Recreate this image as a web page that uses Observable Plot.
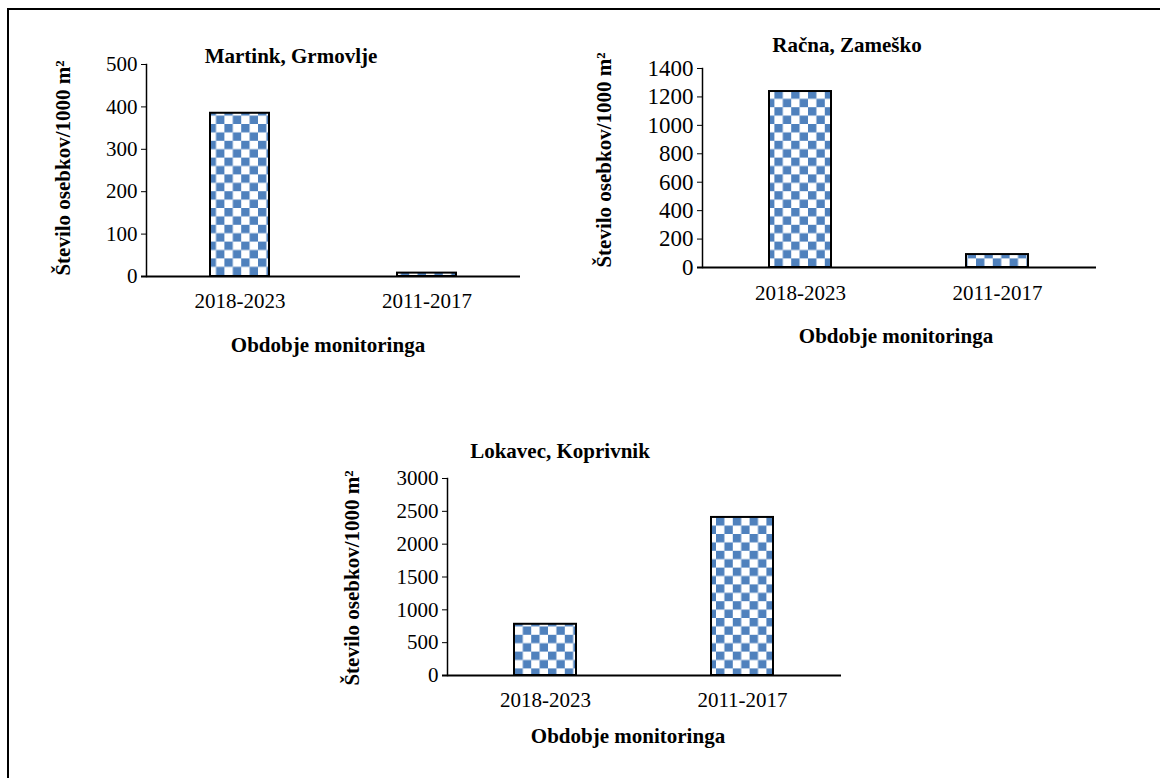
<!DOCTYPE html>
<html><head><meta charset="utf-8">
<script src="https://cdn.jsdelivr.net/npm/d3@7"></script>
<script src="https://cdn.jsdelivr.net/npm/@observablehq/plot@0.6"></script>
<style>
body{margin:0;background:#fff;overflow:hidden;}
#page{position:relative;width:1160px;height:778px;overflow:hidden;background:#fff;font-family:"Liberation Serif","Times New Roman",serif;}
#border{position:absolute;left:7px;top:8px;width:1300px;height:900px;border-left:2px solid #000;border-top:2px solid #000;}
.panel{position:absolute;}
</style></head><body>
<div id="page"><div id="border"></div></div>
<script>
// ---- data ----
const periods = ["2018-2023", "2011-2017"];
const martinkValues = [385, 8];
const racnaValues = [1238, 91];
const lokavecValues = [780, 2407];
const martinkTicks = [0, 100, 200, 300, 400, 500];
const racnaTicks = [0, 200, 400, 600, 800, 1000, 1200, 1400];
const lokavecTicks = [0, 500, 1000, 1500, 2000, 2500, 3000];
const titles = ["Martink, Grmovlje", "Račna, Zameško", "Lokavec, Koprivnik"];
const yLabel = "Število osebkov/1000 m²";
const xLabel = "Obdobje monitoringa";

// ---- layout ----
const layouts = [
  {left: 90, top: 40, w: 440, h: 280, ml: 56, mr: 10, mt: 24, mb: 44, tp: 17, yfs: 21,
   title: [291, 63], ylab: [70, 168], xlab: [328, 352]},
  {left: 640, top: 40, w: 470, h: 270, ml: 62, mr: 14, mt: 28, mb: 43, tp: 18, yfs: 23,
   title: [847, 52], ylab: [611, 160], xlab: [896, 343]},
  {left: 380, top: 450, w: 480, h: 275, ml: 67, mr: 19, mt: 28, mb: 50, tp: 17, yfs: 21,
   title: [560, 458], ylab: [359, 578], xlab: [628, 743]}
];
const series = [martinkValues, racnaValues, lokavecValues];
const tickSets = [martinkTicks, racnaTicks, lokavecTicks];

const page = d3.select("#page");
const FONT = '"Liberation Serif","Times New Roman",serif';

// checker pattern
const cell = 8.4;
const defsSvg = page.append("svg").attr("width", 1).attr("height", 1).style("position", "absolute").style("left", 0).style("top", 0);
const pat = defsSvg.append("defs").append("pattern").attr("id", "checker")
  .attr("patternUnits", "userSpaceOnUse").attr("width", 2 * cell).attr("height", 2 * cell);
pat.append("rect").attr("width", 2 * cell).attr("height", 2 * cell).attr("fill", "#fff");
pat.append("rect").attr("width", cell).attr("height", cell).attr("fill", "#4f81bd");
pat.append("rect").attr("x", cell).attr("y", cell).attr("width", cell).attr("height", cell).attr("fill", "#4f81bd");

series.forEach((values, i) => {
  const L = layouts[i];
  const ticks = tickSets[i];
  const data = periods.map((p, j) => ({period: p, value: values[j]}));
  const plot = Plot.plot({
    width: L.w, height: L.h,
    marginLeft: L.ml, marginRight: L.mr, marginTop: L.mt, marginBottom: L.mb,
    style: {fontFamily: FONT, fontSize: "21px", color: "#000", background: "transparent", overflow: "visible"},
    x: {domain: periods, paddingInner: 0.685, paddingOuter: 0.3425, label: null},
    y: {domain: [ticks[0], ticks[ticks.length - 1]], label: null},
    marks: [
      Plot.barY(data, {x: "period", y: "value", fill: "url(#checker)", stroke: "#000", strokeWidth: 2}),
      Plot.frame({anchor: "left", stroke: "#000", strokeWidth: 1.5}),
      Plot.ruleY([0], {stroke: "#000", strokeWidth: 2, insetLeft: -5}),
      Plot.axisY(ticks, {tickSize: 5, tickPadding: 4, label: null, stroke: "#000", fontSize: L.yfs, tickFormat: d => String(d)}),
      Plot.axisX({tickSize: 0, tickPadding: L.tp, label: null})
    ]
  });
  const div = page.append("div").attr("class", "panel")
    .style("left", L.left + "px").style("top", L.top + "px");
  div.node().appendChild(plot);
});

// overlay text
const ov = page.append("svg").attr("width", 1160).attr("height", 778)
  .style("position", "absolute").style("left", 0).style("top", 0)
  .attr("font-family", FONT).attr("font-size", 21).attr("font-weight", "bold").attr("fill", "#000");
layouts.forEach((L, i) => {
  ov.append("text").attr("x", L.title[0]).attr("y", L.title[1]).attr("text-anchor", "middle").text(titles[i]);
  ov.append("text").attr("x", L.xlab[0]).attr("y", L.xlab[1]).attr("text-anchor", "middle").text(xLabel);
  ov.append("text").attr("text-anchor", "middle")
    .attr("transform", `translate(${L.ylab[0]},${L.ylab[1]}) rotate(-90)`).text(yLabel);
});
</script>
</body></html>
